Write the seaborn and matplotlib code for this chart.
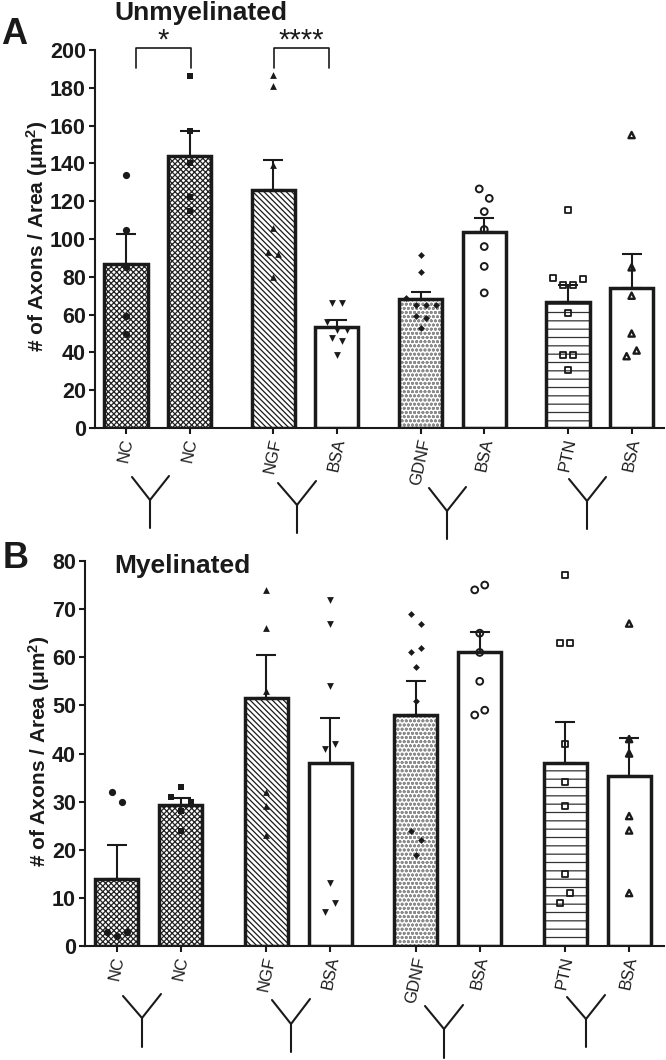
import warnings
import numpy as np
import pandas as pd
import matplotlib
matplotlib.use("Agg")
import matplotlib.pyplot as plt
from matplotlib.lines import Line2D
from matplotlib.patches import Rectangle
import seaborn as sns

warnings.filterwarnings("ignore")

labels = ["NC", "NC", "NGF", "BSA", "GDNF", "BSA", "PTN", "BSA"]
groups = [0, 0, 1, 1, 2, 2, 3, 3]

mean_a = [87, 144, 126, 53.5, 68.5, 103.5, 66.5, 74]
top_a = [102.5, 157, 142, 57, 72, 111, 75.5, 92]
pts_a = [
    [134, 105, 85, 59, 50],
    [186, 157, 140, 122, 115],
    [187, 181, 139, 106, 93, 92, 80],
    [66, 66, 56, 52, 52, 47.5, 46, 38.5],
    [91.5, 82.5, 69, 65, 65, 65, 59, 58, 53],
    [126.5, 121.5, 114.5, 105, 96, 85.5, 71.5],
    [115.5, 79.5, 75.7, 75.7, 79, 60.7, 38.6, 38.6, 30.7],
    [155, 85, 70, 50, 38, 41],
]

mean_b = [14, 29.2, 51.5, 38, 48, 61, 38, 35.3]
top_b = [21, 30.8, 60.5, 47.3, 55, 65.2, 46.5, 43.2]
pts_b = [
    [32, 30, 3, 2, 3],
    [31, 33, 30, 28, 24],
    [74, 66, 53, 32, 29, 23],
    [72, 67, 54, 41, 42, 13, 7, 9],
    [69, 67, 61, 62, 58, 51, 24, 22, 19],
    [74, 75, 65, 61, 55, 48, 49],
    [77, 63, 63, 42, 34, 29, 15, 9, 11],
    [67, 43, 40, 27, 24, 11],
]

W, H = 666, 1060
sns.set_theme(style="white")
plt.rcParams["font.family"] = ["Liberation Sans", "DejaVu Sans"]
plt.rcParams["hatch.linewidth"] = 0.9
plt.rcParams["mathtext.default"] = "regular"

hatches = ["xxxxxx", "xxxxxx", "\\\\\\\\\\\\", None, "oooo", None, "--", None]
hatch_colors = ["#222222", "#222222", "k", "k", "#8c8c8c", "k", "#333333", "k"]
markers = [
    dict(marker="o", color="k", s=27, linewidth=0),
    dict(marker="s", color="k", s=24, linewidth=0),
    dict(marker="^", color="k", s=24, linewidth=0),
    dict(marker="v", color="k", s=24, linewidth=0),
    dict(marker="D", color="k", s=12, linewidth=0),
    dict(marker="o", facecolor="none", edgecolor="k", linewidth=1.4, s=24),
    dict(marker="s", facecolor="none", edgecolor="k", linewidth=1.3, s=19),
    dict(marker="^", facecolor="none", edgecolor="k", linewidth=1.7, s=20),
]


def axes_at(left, right, top, bottom):
    return fig.add_axes([left / W, 1 - bottom / H, (right - left) / W, (bottom - top) / H])


def binned_offsets(vals, tol, step):
    """Prism-style column scatter: close values share a row, spread symmetrically."""
    out, i = [], 0
    while i < len(vals):
        j = i + 1
        while j < len(vals) and abs(vals[j] - vals[i]) <= tol:
            j += 1
        n = j - i
        out.extend((k - (n - 1) / 2) * step for k in range(n))
        i = j
    return out


def panel(ax, means, tops, points, gap, width, xlim, ymax, step, tol, spread):
    xs = [i + g * gap for i, g in enumerate(groups)]
    df = pd.DataFrame({"x": xs, "y": means})
    sns.barplot(data=df, x="x", y="y", native_scale=True, width=width, color="white",
                saturation=1, edgecolor="k", linewidth=2.5, ax=ax, zorder=2)
    bars = list(ax.patches)
    for patch, hatch, hc in zip(bars, hatches, hatch_colors):
        patch.set_facecolor("white")
        patch.set_edgecolor(hc)
        if hatch:
            patch.set_hatch(hatch)
        if hc != "k":
            patch.set_linewidth(0)
            ax.add_patch(Rectangle(patch.get_xy(), patch.get_width(), patch.get_height(),
                                   fill=False, edgecolor="k", linewidth=2.5, zorder=2.5))
    for x, m, t in zip(xs, means, tops):
        ax.errorbar(x, m, yerr=[[0], [t - m]], color="k", lw=1.5, capsize=7.5,
                    capthick=1.5, zorder=3)
    for x, vals, style in zip(xs, points, markers):
        offs = binned_offsets(vals, tol, spread)
        sns.scatterplot(x=[x + o for o in offs], y=vals, ax=ax, zorder=4, legend=False, **style)
    ax.set_xlim(*xlim)
    ax.set_ylim(0, ymax)
    ax.set_xticks(xs)
    ax.set_xticklabels(labels, rotation=78, ha="center", va="top", fontsize=12,
                       rotation_mode="default")
    ax.set_yticks(np.arange(0, ymax + 1, step))
    ax.tick_params(axis="both", which="major", left=True, bottom=True, length=4.5, width=1.5,
                   color="k", labelcolor="k", pad=2)
    for lab in ax.get_yticklabels():
        lab.set_fontweight("bold")
        lab.set_fontsize(15.5)
    ax.set_xlabel("")
    ax.set_ylabel("# of Axons / Area ($\\mu$m$^{2}$)", fontsize=15, fontweight="bold",
                  color="k", labelpad=0, y=0.507)
    sns.despine(ax=ax)
    for s in ("left", "bottom"):
        ax.spines[s].set_linewidth(1.5)
        ax.spines[s].set_color("k")
    ax.patch.set_alpha(0)


fig = plt.figure(figsize=(W / 100, H / 100), dpi=100)

ax_a = axes_at(95, 664, 50, 428)
panel(ax_a, mean_a, top_a, pts_a, 0.32, 0.68, (-0.488, 8.47), 200, 20, 5.5, 10 / 63.5)

ax_b = axes_at(85, 664, 561, 946)
panel(ax_b, mean_b, top_b, pts_b, 0.335, 0.672, (-0.5, 8.55), 80, 10, 2.5, 10 / 64)


def ftext(x, y, s, **kw):
    fig.text(x / W, 1 - y / H, s, color="k", fontweight="bold", **kw)


ftext(114, 13, "Unmyelinated", fontsize=19, va="center", ha="left")
ftext(114, 566, "Myelinated", fontsize=19, va="center", ha="left")
ftext(1, 34, "A", fontsize=26, va="center", ha="left")
ftext(3, 559, "B", fontsize=26, va="center", ha="left")


def fline(xs, ys, lw=1.5):
    fig.add_artist(Line2D([x / W for x in xs], [1 - y / H for y in ys], color="k", lw=lw))


for x0, x1, star, ytext in [(136, 191, "*", 41), (274, 329, "****", 41)]:
    fline([x0, x0, x1, x1], [68, 48, 48, 68], lw=1.2)
    fig.text((x0 + x1) / 2 / W, 1 - ytext / H, star, ha="center", va="center",
             fontsize=21, color="k")

antibodies = [
    (150, 500, 132, 477, 169, 476, 528),
    (297, 505, 278, 483, 316, 481, 533),
    (447, 511, 429, 488, 466, 487, 539),
    (587, 501, 569, 479, 606, 477, 529),
    (142, 1018, 123, 996, 161, 994, 1047),
    (291, 1024, 272, 1000, 310, 999, 1052),
    (444, 1029, 425, 1006, 463, 1005, 1058),
    (586, 1019, 567, 997, 605, 995, 1047),
]
for jx, jy, lx, ly, rx, ry, by in antibodies:
    fline([lx, jx, rx], [ly, jy, ry])
    fline([jx, jx], [jy, by])

fig.savefig("out.png", dpi=100)
